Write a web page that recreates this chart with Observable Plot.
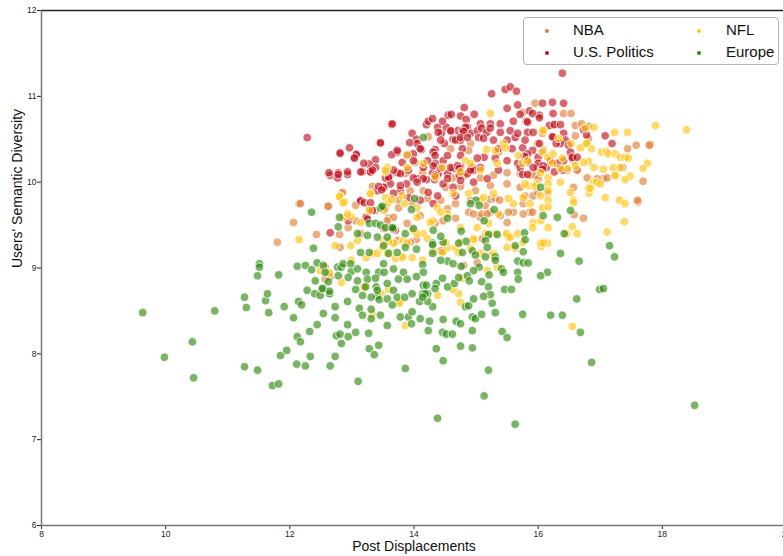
<!DOCTYPE html>
<html><head><meta charset="utf-8">
<script src="https://cdn.jsdelivr.net/npm/d3@7"></script>
<script src="https://cdn.jsdelivr.net/npm/@observablehq/plot@0.6"></script>
<style>
body{margin:0;overflow:hidden;background:#fff;font-family:"Liberation Sans",Arial,Helvetica,sans-serif}
#wrap{position:relative;width:783px;height:556px;overflow:hidden}
#legend{position:absolute;left:523px;top:17px;width:256px;height:48px;border:1px solid #b4b4b4;border-radius:4px;background:rgba(255,255,255,0.85);box-sizing:border-box;font-size:15px;color:#111}
.dot{position:absolute;width:4px;height:4px;border-radius:50%}
.lab{position:absolute;line-height:16px;white-space:nowrap}
</style></head><body><div id="wrap"><div id="legend"></div></div>
<script>
const seriesNames = ["NBA", "U.S. Politics", "NFL", "Europe"];
const seriesColors = ["#de7e37", "#c0101c", "#ffc413", "#2c8a0c"];
const xTicks = [8, 10, 12, 14, 16, 18, 20];
const yTicks = [6, 7, 8, 9, 10, 11, 12];
const xLabel = "Post Displacements";
const yLabel = "Users' Semantic Diversity";

const nba = [
[11.80,9.30],[12.06,9.53],[12.15,9.75],[12.43,9.39],[12.61,9.72],[12.81,9.24],[12.83,9.87],[12.80,9.39],[12.94,9.47],[13.06,9.55],[13.06,9.73],[13.33,9.95],[13.30,9.68],[13.38,9.67],[13.59,9.58],[13.75,9.79],[13.51,9.46],[12.57,9.01],[12.17,9.75],[12.62,9.72],[12.85,9.88],[14.23,10.53],
[12.61,8.94],[12.65,8.90],[12.57,8.87],[13.19,8.77],[13.14,9.40],[14.04,9.33],[14.47,9.20],
[15.95,10.92],[16.41,10.80],[16.53,10.80],[16.26,10.67],[16.60,10.66],[16.70,10.68],[16.81,10.65],[15.75,10.81],[16.07,10.57],[17.44,10.39],[17.58,10.43],[17.81,10.44],[17.36,10.17],[17.05,10.04],[17.69,10.01],[17.61,9.77],[16.73,9.58],[16.57,9.94],[16.63,10.14],[15.87,10.08],[15.95,10.08],[16.00,10.04],[15.79,9.84],[15.92,9.84],[15.76,9.75],[15.87,9.65],[15.76,9.63],
[16.60,10.54],[16.81,10.51],[14.91,10.45],[17.60,9.79],[17.79,10.43],[15.91,9.65],[15.60,9.65],[15.52,9.65],[15.39,9.61],[15.23,9.65],[15.07,9.59],[14.88,9.65],[14.67,9.58],[14.47,9.55],[14.34,9.52],[14.10,9.61],[13.89,9.52],[13.67,9.59],[13.57,9.55],[13.94,9.30],[13.73,9.32],[14.43,9.20],[15.15,9.73],[14.91,9.79],[14.67,9.75],[14.43,9.79],[14.22,9.81],[13.97,9.75],[13.75,9.70],[13.54,9.70],[14.15,9.90],[13.94,9.90],[14.51,9.94],[14.75,9.95],[14.99,9.90],[15.23,9.96],[15.50,9.98],[15.71,9.94],[15.99,9.88],[16.15,9.87],[15.71,10.10],[15.50,10.11],[15.28,10.08],[15.07,10.05],[14.83,10.08],[14.62,10.05],[14.38,10.08],[14.14,10.11],[13.86,10.10],[13.62,10.08],[14.02,10.23],[14.88,10.37],[14.59,10.39],[15.36,10.35],[15.99,10.45],[16.08,10.37],[16.57,10.25],[16.47,10.14],[16.63,10.14],[16.79,10.05],[16.95,10.04],[17.11,10.05],
[16.58,9.62],[15.02,9.06],[14.80,9.03],[14.96,9.63],[15.09,9.63],[15.18,9.63],[15.50,9.53],[15.23,9.80],[15.31,9.81],[15.38,9.79],[14.54,9.69],[15.20,9.38],[15.10,9.34]
];

const politics = [
[12.28,10.52],[12.81,10.33],[12.96,10.40],[13.07,10.33],[13.04,10.29],[13.46,10.45],[13.64,10.67],[13.73,10.35],[13.64,10.32],[13.38,10.26],[13.28,10.21],[13.38,10.17],[13.19,10.22],[12.65,10.08],[12.78,10.11],[12.77,10.05],[12.93,10.09],[13.17,10.12],[13.30,10.12],[13.59,10.04],[13.73,10.11],[13.81,10.23],[13.91,10.14],[13.99,10.33],[13.97,10.57],[14.04,10.50],[14.05,10.45],[14.12,10.38],[13.93,10.46],[14.20,10.67],[14.23,10.71],[14.30,10.74],[14.38,10.64],[14.34,10.38],[14.44,10.57],[14.52,10.64],[14.55,10.78],[14.60,10.79],[14.63,10.50],[14.49,10.45],[14.60,10.59],[14.75,10.77],[14.81,10.87],[14.84,10.73],[14.71,10.60],[14.78,10.60],[14.97,10.79],[14.86,10.64],[14.91,10.57],[14.75,10.49],[14.78,10.39],[14.47,10.25],[14.34,10.22],[14.15,10.17],[14.30,10.11],[14.39,10.10],[14.33,10.03],[14.20,10.03],[14.05,10.04],[14.54,10.10],[14.63,10.16],[14.75,10.18],[14.73,10.08],[14.86,10.10],[14.94,10.17],[14.96,10.14],[14.47,9.98],[14.63,9.94],[13.88,9.98],[13.78,9.90],[13.41,9.90],[13.51,9.94],[13.23,9.59],[13.14,9.79],[13.33,9.67],[13.52,9.70],
[16.39,11.27],[15.25,11.03],[15.47,11.08],[15.55,11.11],[15.65,11.06],[15.50,10.86],[15.67,10.90],[15.71,10.79],[16.07,10.92],[16.23,10.93],[16.41,10.92],[16.02,10.78],[15.81,10.71],[15.60,10.71],[15.39,10.68],[15.23,10.68],[15.07,10.68],[14.83,10.64],[14.46,10.71],[14.39,10.58],[14.59,10.60],[14.80,10.59],[15.02,10.60],[15.09,10.63],[15.17,10.58],[15.23,10.63],[15.39,10.58],[15.55,10.60],[15.63,10.52],[15.67,10.57],[15.83,10.58],[15.92,10.58],[16.18,10.66],[16.26,10.67],[16.36,10.67],[16.24,10.52],[16.41,10.57],[16.44,10.49],[16.36,10.45],[16.49,10.43],[16.52,10.35],[13.65,10.68],[14.43,10.49],[14.67,10.49],[14.75,10.52],[14.86,10.52],[15.04,10.52],[15.12,10.51],[15.28,10.49],[15.50,10.49],[15.36,10.39],[15.58,10.39],[15.75,10.40],[15.91,10.37],[16.00,10.29],[16.20,10.25],[16.41,10.25],[16.55,10.28],[15.84,10.23],[15.67,10.22],[15.71,10.17],[15.99,10.17],[16.13,10.17],[16.31,10.22],[16.39,10.14],[15.50,10.25],[15.31,10.28],[15.13,10.29],[15.02,10.28],[14.75,10.31],[14.54,10.31],[14.31,10.35],[14.34,10.31],[14.10,10.39],[13.89,10.31],[13.73,10.37],[13.99,10.25],[14.22,10.25],[14.31,10.19],[14.43,10.16],[14.59,10.17],[14.70,10.19],[14.73,10.16],[14.91,10.14],[15.07,10.17],[15.18,10.04],[15.36,10.14],[14.96,10.00],[14.75,10.02],[14.54,10.04],[14.34,10.08],[14.15,10.04],[13.99,10.05],[13.78,10.10],[13.67,10.14],[13.62,9.98],[13.78,9.96],[14.05,10.00],[14.23,9.88],[14.38,9.84],[14.31,9.75],[14.10,9.79],[13.91,9.82],[13.67,9.87],[13.51,9.94],[13.70,9.44],[14.67,9.84],[13.46,10.46],
[15.86,10.83],[15.91,10.80],[16.02,10.75],[16.24,10.80],[15.83,10.70],[16.23,10.53],[15.79,10.49],[16.02,10.45],[16.29,10.45],[16.73,10.61],[16.78,10.55],[17.08,10.54],[17.19,10.45],[15.83,10.33],[15.78,10.30],[16.00,10.22],[16.08,10.19],[15.92,10.17],[16.07,10.15],[16.26,10.12],[16.55,10.29],[16.63,10.29],[15.75,10.09],[15.83,10.09],
[12.65,9.41],[12.63,10.11],[12.78,10.09],[12.93,10.12],[12.81,10.34],[13.07,10.32],[13.04,10.28],[13.14,10.12],[13.30,10.12],[13.33,10.14],[12.94,9.55],[13.25,9.57],[13.67,9.45],[13.14,9.78],[13.20,9.76],[13.30,9.76],[13.54,10.05],[13.59,10.06],[13.43,9.95],[13.48,9.91]
];

const nfl = [
[18.39,10.61],[17.89,10.66],[17.44,10.58],[17.23,10.58],[16.90,10.64],[16.08,10.61],[16.33,10.51],[16.53,10.45],[16.78,10.45],[16.86,10.39],[17.02,10.35],[17.10,10.36],[17.13,10.33],[17.24,10.33],[17.32,10.29],[17.40,10.29],[17.45,10.28],[17.76,10.22],[17.69,10.16],[17.48,10.07],[17.40,10.03],[17.24,10.07],[17.05,10.15],[16.90,10.17],[16.81,10.24],[16.73,10.23],[16.60,10.19],[16.47,10.16],[16.36,10.16],[16.23,10.22],[16.39,10.28],[16.07,10.35],[16.15,10.29],[15.75,10.22],[16.04,10.11],[16.16,10.05],[16.36,10.00],[16.16,9.98],[15.97,9.98],[15.84,9.96],[16.04,9.84],[16.16,9.90],[16.52,9.88],[16.57,9.79],[16.57,9.76],[16.82,9.87],[16.89,10.00],[16.94,10.00],[16.81,9.93],[17.08,9.82],[17.31,9.79],[17.40,9.75],[17.39,9.54],[17.11,9.42],[16.16,9.79],[16.07,9.70],[16.16,9.47],[15.92,9.53],[16.55,9.48],[16.15,9.29],[16.05,9.25],
[15.23,10.80],[16.08,10.60],[16.76,10.63],[16.68,10.40],[16.78,10.45],[17.21,10.17],[17.32,10.17],[17.24,10.08],[16.84,9.93],[17.00,9.98],[16.16,9.71],[16.04,9.55],[15.76,9.82],[15.87,9.75],[15.91,9.47],[15.67,9.40],[15.50,9.38],[15.52,9.36],[15.76,9.30],[16.04,9.29],[16.08,9.29],[15.31,9.40],[15.15,9.40],[15.02,9.47],[15.20,9.52],[15.36,9.63],[15.60,9.75],[15.52,9.81],[15.28,9.87],[15.07,9.79],[15.12,9.82],[14.88,9.87],[14.63,9.87],[14.54,9.63],[14.38,9.70],[14.43,9.65],[14.30,9.55],[14.15,9.40],[13.99,9.44],[14.05,9.40],[13.83,9.32],[13.89,9.29],[13.67,9.29],[13.51,9.32],[13.57,9.17],[13.81,9.12],[14.31,9.20],[14.54,9.24],[14.75,9.30],[14.96,9.32],[15.07,9.17],[15.28,9.17],[15.50,9.24],[13.54,9.82],[13.59,9.76],[13.81,9.84],[14.05,9.70],[13.89,10.17],[14.15,10.22],[14.46,10.17],[14.83,10.25],[14.91,10.22],[15.17,10.38],[15.31,10.37],[15.44,10.45],[15.47,10.40],[15.68,10.31],[15.83,10.25],[16.24,10.33],[15.79,9.98],[15.95,9.95],[15.34,10.22],[15.07,10.14],[14.75,10.12],[14.34,10.06],[13.57,10.17],
[13.89,10.32],[13.54,10.12],[12.81,9.84],[12.88,9.77],[13.30,9.86],
[12.15,9.33],[12.80,9.83],[12.73,9.26],[12.86,9.76],[12.99,9.60],[13.09,9.32],[13.23,9.12],[13.33,9.17],[13.41,9.17],[13.54,10.14],[13.30,9.87],[13.64,9.80],[13.67,9.29],[13.70,9.11],[12.64,8.94],[12.83,8.83],[13.20,8.78],[13.59,8.75],[13.33,8.46],[12.49,8.97],[13.78,8.61],[12.99,9.09],[12.98,9.26],[13.49,9.24],[13.59,9.31],[13.81,9.13],[13.97,9.12],[14.14,9.09],[14.22,9.34],[14.46,9.18],[12.86,9.59],[13.14,9.53],[12.93,9.63],[13.28,9.67],[13.52,9.67],[13.85,9.75],[14.05,9.59],[14.26,9.53],
[13.86,8.33],[14.38,8.68],[14.75,8.60],[16.55,8.32],[13.47,8.70],[13.76,8.59],[16.46,9.40],[16.63,9.40],[14.72,8.70],[14.78,8.88],[14.63,8.75],[14.51,9.30],[14.67,9.23],[14.72,9.18],[14.91,9.23],[14.96,9.34],[15.18,8.97],[15.34,9.01],[15.49,9.40],[15.55,9.36],[15.63,9.23],[15.26,9.15],[14.75,9.47]
];

const europe = [
[9.63,8.48],[9.98,7.96],[10.43,8.14],[10.45,7.72],[10.79,8.50],[11.27,8.66],[11.30,8.54],[11.27,7.85],[11.48,7.81],[11.72,7.63],[11.82,7.65],[11.61,8.62],[11.64,8.70],[11.66,8.48],[11.91,8.55],[12.06,8.42],[12.14,8.61],[12.19,8.57],[12.12,8.20],[12.17,8.14],[11.85,7.98],[11.95,8.04],[12.11,7.88],[12.25,7.86],[12.33,7.97],[12.32,8.26],[12.44,8.34],[12.54,8.47],[12.28,8.74],[12.40,8.70],[12.49,8.68],[12.54,8.76],[12.64,8.70],[12.73,8.55],[12.73,8.42],[12.75,8.21],[12.81,8.23],[12.83,8.12],[12.93,8.61],[12.93,8.34],[12.94,8.20],[12.65,7.86],[12.73,7.97],[13.06,8.25],[13.12,8.53],[13.17,8.45],[13.31,8.52],[13.31,8.41],[13.27,8.24],[13.28,8.06],[13.43,8.10],[13.36,7.99],[13.10,7.68],[13.41,8.67],[13.44,8.63],[13.57,8.64],[13.46,8.45],[13.57,8.33],[13.65,8.57],[13.78,8.43],[13.91,8.43],[13.96,8.35],[13.86,7.83],[14.10,8.41],[14.23,8.27],[14.25,8.38],[14.30,8.55],[14.36,8.06],[14.38,7.25],[14.09,8.61],[14.22,8.61],[14.14,8.70],[14.22,8.70],[13.97,8.49],[14.46,8.25],[14.47,8.40],[14.52,8.23],[14.62,8.23],[14.47,7.92],[14.68,8.38],[14.75,8.35],[14.75,8.09],[14.94,8.43],[14.99,8.41],[15.09,8.46],[14.94,8.27],[14.94,8.07],[14.83,8.55],[14.88,8.56],[15.26,8.59],[15.31,8.48],[15.42,8.26],[15.50,8.19],[15.20,7.81],[15.13,7.51],[15.63,7.18],[15.75,8.46],[16.20,8.45],[16.39,8.45],[16.68,8.25],[16.86,7.90],[18.52,7.40],
[15.00,9.79],[15.05,9.73],[15.29,9.68],[14.54,9.58],[15.13,9.55],[14.76,9.43],[15.34,9.39],[15.20,9.39],[15.78,9.41],[16.08,9.61],[16.31,9.59],[16.52,9.67],[16.42,9.40],[15.15,9.32],[14.84,9.31],[15.79,9.33],[15.18,9.24],[15.63,9.26],[17.15,9.26],[14.78,9.18],[14.94,9.20],[14.99,9.15],[15.76,9.19],[16.36,9.17],[15.15,9.13],[15.31,9.13],[15.31,9.09],[15.67,9.08],[15.76,9.06],[15.84,9.06],[17.23,9.13],[16.66,9.08],[14.54,9.08],[14.63,9.05],[14.76,9.02],[15.05,9.01],[14.96,8.97],[15.41,8.99],[15.44,8.95],[15.67,8.95],[16.15,8.95],[16.04,8.91],[15.21,8.92],[14.86,8.91],[14.46,8.88],[14.54,8.78],[14.65,8.82],[14.72,8.89],[14.89,8.85],[15.09,8.84],[15.68,8.87],[15.20,8.78],[15.23,8.69],[15.46,8.75],[15.57,8.75],[14.96,8.64],[15.12,8.67],[16.62,8.64],[16.99,8.75],[17.05,8.76],
[12.35,9.65],[12.80,9.59],[12.78,9.48],[13.28,9.52],[13.38,9.52],[13.46,9.50],[13.09,9.40],[13.25,9.38],[13.41,9.36],[13.57,9.36],[13.67,9.46],[13.86,9.40],[13.99,9.46],[14.31,9.44],[14.30,9.29],[14.47,9.30],[12.38,9.23],[13.14,9.18],[13.28,9.18],[13.51,9.26],[13.59,9.17],[13.73,9.18],[13.86,9.24],[14.04,9.22],[14.30,9.17],[14.43,9.09],[12.44,9.06],[12.54,9.03],[12.77,9.01],[12.83,9.01],[12.86,9.05],[12.99,8.96],[12.98,9.05],[13.09,8.99],[13.23,8.95],[13.43,8.95],[13.51,9.05],[13.52,8.95],[13.67,8.99],[13.83,8.95],[14.14,9.04],[14.15,8.95],[11.51,9.05],[11.51,9.01],[11.48,8.91],[11.82,8.92],[12.12,9.02],[12.25,9.03],[12.35,8.98],[12.57,8.95],[12.41,8.85],[12.62,8.84],[12.78,8.91],[12.94,8.89],[13.09,8.85],[13.25,8.87],[13.38,8.88],[13.57,8.82],[13.39,8.78],[13.41,8.74],[13.22,8.78],[13.06,8.75],[12.64,8.73],[12.52,8.76],[13.67,8.74],[13.75,8.87],[13.89,8.87],[14.04,8.90],[14.15,8.80],[14.20,8.80],[14.36,8.82],[14.34,8.76],[14.18,8.70],[14.14,8.66],[13.73,8.66],[13.85,8.66],[13.97,8.70],[13.31,8.66],[13.17,8.68],
[14.15,10.52],[14.01,9.81],[13.96,9.68],[13.46,9.70],[16.04,9.94],[13.49,9.72],[13.54,9.47],[13.65,9.47],[14.91,9.75],[14.72,9.29],[14.30,9.27],[14.43,9.37]
];

const groups = [nba, politics, nfl, europe];
const rows = groups.flatMap((pts, i) => pts.map(([x, y]) => ({x, y, group: seriesNames[i]})));

const chart = Plot.plot({
  width: 783, height: 556,
  marginTop: 10, marginBottom: 31, marginLeft: 41, marginRight: -3,
  style: {fontFamily: "'Liberation Sans', Arial, sans-serif", fontSize: "8.5px", color: "#222", background: "transparent", overflow: "visible"},
  x: {domain: [8, 20], ticks: xTicks, tickSize: 4, tickPadding: 1, tickFormat: d => String(d), label: null},
  y: {domain: [6, 12], ticks: yTicks, tickSize: 4, tickPadding: 1, tickFormat: d => String(d), label: null},
  color: {domain: seriesNames, range: seriesColors},
  marks: [
    Plot.dot(rows, {x: "x", y: "y", fill: "group", r: 4.3, fillOpacity: 0.64, stroke: "white", strokeWidth: 0.9, strokeOpacity: 0.9}),
    Plot.ruleY([12], {stroke: "#222", strokeWidth: 1.5}),
    Plot.ruleX([8], {stroke: "#777", strokeWidth: 1.5}),
    Plot.ruleY([6], {stroke: "#777", strokeWidth: 1.5}),
    Plot.text([xLabel], {frameAnchor: "bottom", dy: 21, lineAnchor: "middle", fontSize: 14, fill: "#111"}),
    Plot.text([yLabel], {frameAnchor: "left", dx: -24, rotate: -90, fontSize: 14, fill: "#111"})
  ]
});
const wrap = document.getElementById("wrap");
wrap.insertBefore(chart, wrap.firstChild);

const legend = document.getElementById("legend");
const legendPos = [[0, 0], [1, 0], [0, 1], [1, 1]];
const legendOrder = ["NBA", "NFL", "U.S. Politics", "Europe"];
legendOrder.forEach((name, k) => {
  const [c, r] = legendPos[k];
  const color = seriesColors[seriesNames.indexOf(name)];
  const d = document.createElement("div");
  d.className = "dot";
  d.style.background = color;
  d.style.left = (21 + c * 152) + "px";
  d.style.top = (11 + r * 22) + "px";
  legend.appendChild(d);
  const t = document.createElement("div");
  t.className = "lab";
  t.textContent = name;
  t.style.left = (49 + c * 153) + "px";
  t.style.top = (4 + r * 22) + "px";
  legend.appendChild(t);
});
</script></body></html>
